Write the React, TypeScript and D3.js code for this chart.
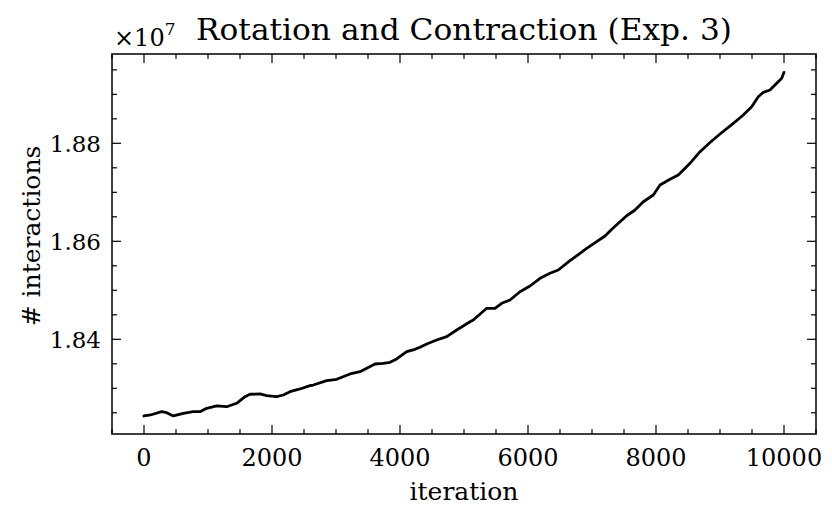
import * as d3 from 'd3';

const width = 832;
const height = 521;
const marginLeft = 112;
const marginRight = 16;
const marginTop = 54;
const marginBottom = 87;

// iteration number and # interactions (in units of 1e7)
const iterations = [
  0, 100, 275, 355, 458, 614, 770, 875, 980, 1136, 1292, 1448, 1578, 1656, 1812, 1917,
  2073, 2177, 2281, 2437, 2594, 2645, 2855, 3011, 3219, 3375, 3609, 3739, 3844, 3948,
  4105, 4234, 4313, 4417, 4573, 4730, 4886, 5094, 5145, 5355, 5484, 5589, 5719, 5875,
  6031, 6188, 6344, 6473, 6656, 6813, 6917, 7073, 7203, 7313, 7438, 7542, 7672, 7802,
  7958, 8063, 8219, 8348, 8427, 8531, 8688, 8844, 9000, 9208, 9364, 9495, 9598, 9677,
  9781, 9886, 9964, 10000,
];
const interactions = [
  1.82435, 1.82455, 1.82522, 1.82502, 1.82435, 1.8249, 1.82522, 1.82522, 1.82592, 1.82639,
  1.82624, 1.82694, 1.82829, 1.82878, 1.82884, 1.8285, 1.82829, 1.82863, 1.82931, 1.82986,
  1.83053, 1.83067, 1.83155, 1.83184, 1.83292, 1.83339, 1.83496, 1.8351, 1.8353, 1.83598,
  1.83747, 1.83796, 1.83837, 1.83904, 1.83986, 1.84053, 1.8419, 1.84359, 1.84394, 1.84633,
  1.84633, 1.84735, 1.84802, 1.84971, 1.85088, 1.85245, 1.85347, 1.85414, 1.85604, 1.85755,
  1.85857, 1.85992, 1.86108, 1.86251, 1.864, 1.86522, 1.86639, 1.86808, 1.86945, 1.87149,
  1.87265, 1.87353, 1.87455, 1.87592, 1.87829, 1.88016, 1.8819, 1.88408, 1.88578, 1.88747,
  1.88951, 1.89041, 1.89088, 1.89224, 1.89327, 1.89449,
];

const xMajor = [0, 2000, 4000, 6000, 8000, 10000];
const yMajor = [1.84, 1.86, 1.88];

const title = 'Rotation and Contraction (Exp. 3)';
const xLabel = 'iteration';
const yLabel = '# interactions';

const font = '"DejaVu Serif", serif';

export default function App() {
  const x = d3
    .scaleLinear()
    .domain([-500, 10500])
    .range([marginLeft, width - marginRight]);
  const y = d3
    .scaleLinear()
    .domain([1.82067, 1.89823])
    .range([height - marginBottom, marginTop]);

  const xMinor = d3.range(-500, 10501, 500).filter((d) => d % 2000 !== 0);
  const yMinor = d3
    .range(1825, 1899, 5)
    .map((d) => d / 1000)
    .filter((d) => !yMajor.some((m) => Math.abs(m - d) < 1e-9));

  const points = iterations.map((it, i) => [it, interactions[i]] as [number, number]);
  const line = d3
    .line<[number, number]>()
    .x((d) => x(d[0]))
    .y((d) => y(d[1]));

  const x0 = marginLeft;
  const x1 = width - marginRight;
  const y0 = marginTop;
  const y1 = height - marginBottom;
  const major = 9;
  const minor = 5;

  return (
    <svg
      width={width}
      height={height}
      style={{ position: 'absolute', left: 0, top: 0, background: '#fff' }}
      fontFamily={font}
    >
      <rect width={width} height={height} fill="#fff" />

      {/* data */}
      <path
        d={line(points) ?? ''}
        fill="none"
        stroke="#000"
        strokeWidth={2.8}
        strokeLinejoin="round"
        strokeLinecap="round"
      />

      {/* ticks, pointing in on all four sides */}
      <g stroke="#000" strokeWidth={1.2}>
        {xMajor.map((d) => (
          <g key={'xm' + d}>
            <line x1={x(d)} x2={x(d)} y1={y1} y2={y1 - major} />
            <line x1={x(d)} x2={x(d)} y1={y0} y2={y0 + major} />
          </g>
        ))}
        {xMinor.map((d) => (
          <g key={'xn' + d}>
            <line x1={x(d)} x2={x(d)} y1={y1} y2={y1 - minor} />
            <line x1={x(d)} x2={x(d)} y1={y0} y2={y0 + minor} />
          </g>
        ))}
        {yMajor.map((d) => (
          <g key={'ym' + d}>
            <line x1={x0} x2={x0 + major} y1={y(d)} y2={y(d)} />
            <line x1={x1} x2={x1 - major} y1={y(d)} y2={y(d)} />
          </g>
        ))}
        {yMinor.map((d) => (
          <g key={'yn' + d}>
            <line x1={x0} x2={x0 + minor} y1={y(d)} y2={y(d)} />
            <line x1={x1} x2={x1 - minor} y1={y(d)} y2={y(d)} />
          </g>
        ))}
      </g>

      {/* frame */}
      <rect x={x0} y={y0} width={x1 - x0} height={y1 - y0} fill="none" stroke="#000" strokeWidth={1.5} />

      {/* tick labels */}
      <g fontSize={24} fill="#000">
        {xMajor.map((d) => (
          <text key={'xl' + d} x={x(d)} y={466} textAnchor="middle">
            {d}
          </text>
        ))}
      </g>
      <g fontSize={23} fill="#000">
        {yMajor.map((d) => (
          <text key={'yl' + d} x={101} y={y(d)} dy="0.36em" textAnchor="end">
            {d.toFixed(2)}
          </text>
        ))}
      </g>

      {/* offset text */}
      <text x={114} y={46} fontSize={24} fill="#000">
        ×10
        <tspan dy={-11} fontSize={17}>
          7
        </tspan>
      </text>

      <text
        x={(x0 + x1) / 2}
        y={40}
        fontSize={29}
        textAnchor="middle"
        textLength={536}
        lengthAdjust="spacingAndGlyphs"
        fill="#000"
      >
        {title}
      </text>
      <text x={(x0 + x1) / 2} y={500} fontSize={25} textAnchor="middle" fill="#000">
        {xLabel}
      </text>
      <text
        transform={`translate(40,236) rotate(-90)`}
        fontSize={25}
        textAnchor="middle"
        fill="#000"
      >
        {yLabel}
      </text>
    </svg>
  );
}
